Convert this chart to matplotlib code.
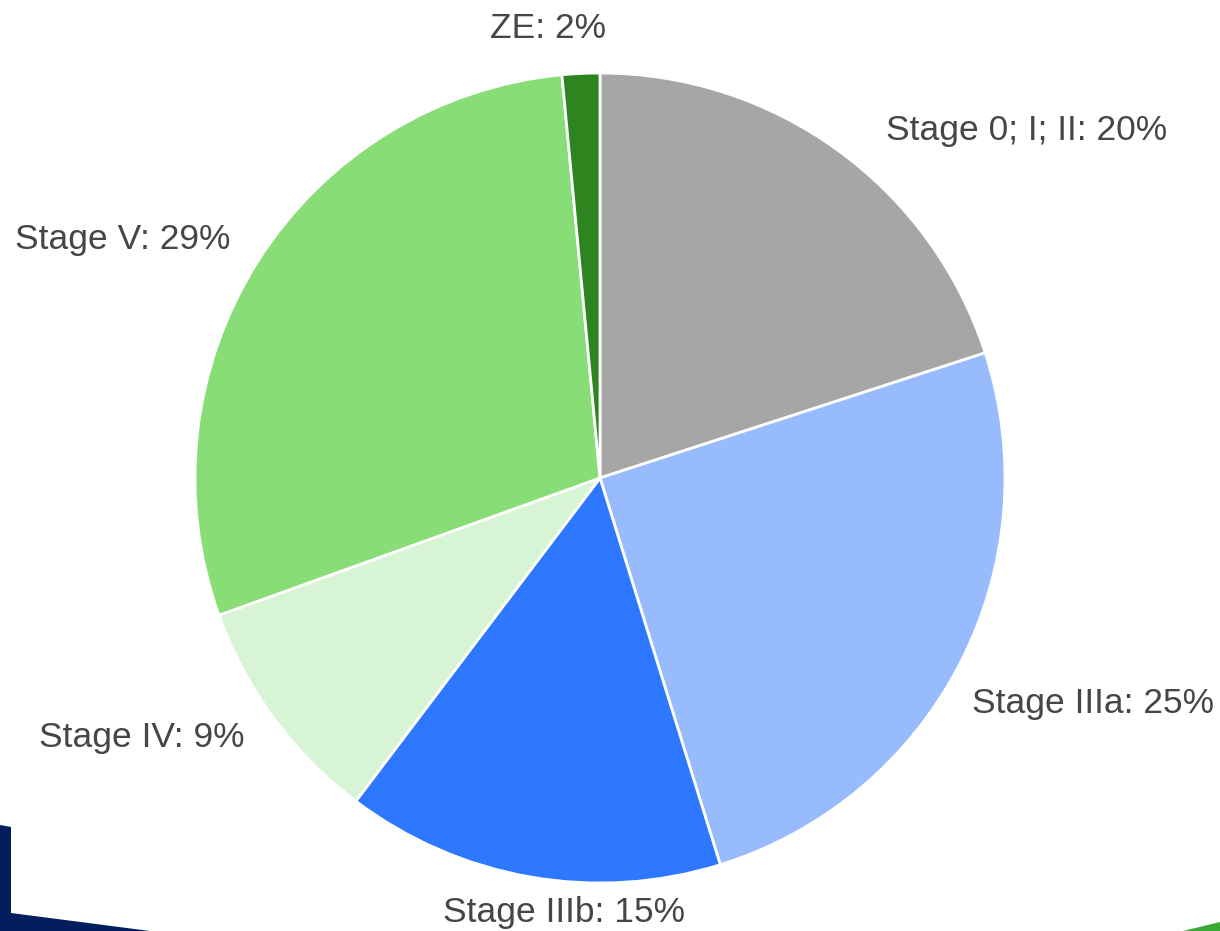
import matplotlib
matplotlib.use("Agg")
import matplotlib.pyplot as plt
from matplotlib.patches import Polygon

# === DATA ====================================================================
stages  = ["Stage 0; I; II", "Stage IIIa", "Stage IIIb", "Stage IV", "Stage V", "ZE"]
shares  = [20.0, 25.2, 15.1, 9.2, 29.0, 1.5]
pct_txt = ["20%", "25%", "15%", "9%", "29%", "2%"]
colors  = ["#A6A6A6", "#98BBFE", "#2E77FF", "#D7F4D4", "#88DD76", "#2E8520"]

# label anchor points (data coords, pie radius = 1)
label_xy = [(1.054, 0.859), (1.217, -0.556), (-0.089, -1.072),
            (-1.131, -0.640), (-1.178, 0.588), (-0.128, 1.111)]

W, H = 1220, 931
fig = plt.figure(figsize=(W / 100, H / 100), dpi=100)
fig.set_facecolor("white")

# decorative slide shapes in the corners
navy = Polygon([(0, 825), (11, 827), (11, 913), (150, 931), (0, 931)],
               closed=True, transform=fig.transFigure, facecolor="#031E5C",
               edgecolor="none")
fig.patches.append(navy)
navy.set_xy([(x / W, 1 - y / H) for x, y in navy.get_xy()])
green = Polygon([(1183 / W, 0), (1220 / W, 9 / H), (1220 / W, 0)],
                closed=True, transform=fig.transFigure, facecolor="#3AAA35",
                edgecolor="none")
fig.patches.append(green)

# pie centre (600, 478) px, radius 405 px
cx, cy, r = 600, 478, 405
ax = fig.add_axes([(cx - r) / W, (H - cy - r) / H, 2 * r / W, 2 * r / H])
ax.pie(shares, colors=colors, startangle=90, counterclock=False, radius=1,
       wedgeprops=dict(edgecolor="white", linewidth=2))
ax.set_xlim(-1, 1)
ax.set_ylim(-1, 1)
ax.set_aspect("equal")
ax.axis("off")

for name, p, (x, y) in zip(stages, pct_txt, label_xy):
    ax.text(x, y, f"{name}: {p}", ha="center", va="center", fontsize=25.5,
            color="#464646", family="Liberation Sans", clip_on=False)

fig.savefig("out.png", dpi=100, facecolor=fig.get_facecolor())
